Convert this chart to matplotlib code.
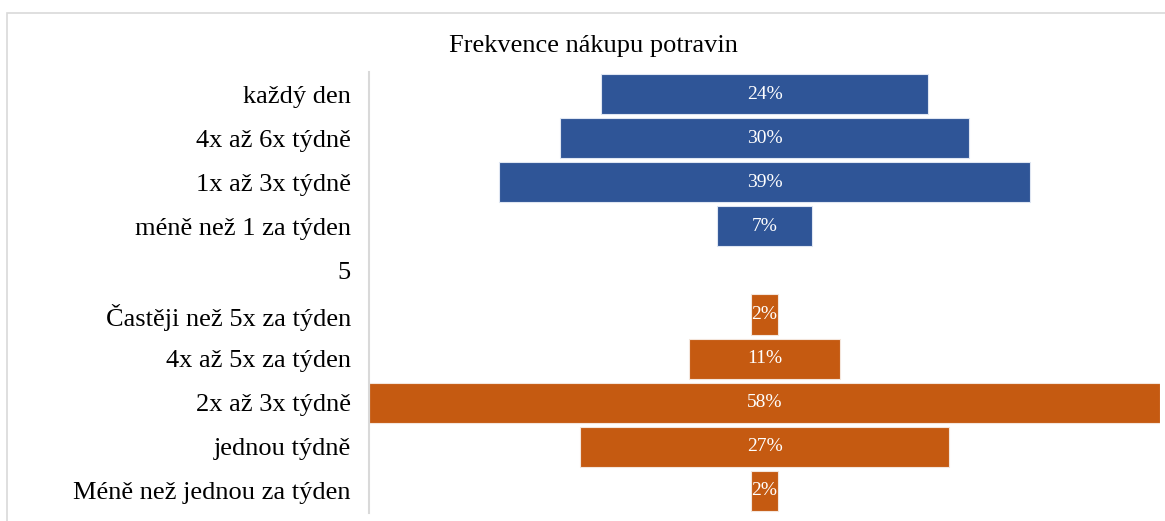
import numpy as np
import matplotlib
matplotlib.use("Agg")
import matplotlib.pyplot as plt
from matplotlib.patches import Rectangle

plt.rcParams["font.family"] = ["Liberation Serif", "DejaVu Serif"]

#%% data
categories = ["každý den", "4x až 6x týdně", "1x až 3x týdně", "méně než 1 za týden", "5",
              "Častěji než 5x za týden", "4x až 5x za týden", "2x až 3x týdně",
              "jednou týdně", "Méně než jednou za týden"]
values = [24, 30, 39, 7, 0, 2, 11, 58, 27, 2]
groups = ["a", "a", "a", "a", None, "b", "b", "b", "b", "b"]
colors = {"a": "#2F5597", "b": "#C55A11"}

#%% plot
fig = plt.figure(figsize=(11.65, 5.21), dpi=100)
fig.patches.append(Rectangle((7 / 1165, -0.1), 1.5, 1 - 13 / 521 + 0.1, transform=fig.transFigure,
                             fill=False, edgecolor="#d9d9d9", linewidth=1.2))
ax = fig.add_axes([369 / 1165, 8 / 521, 791 / 1165, 441 / 521])

y = np.arange(len(categories))
for i, (v, g) in enumerate(zip(values, groups)):
    if g is None:
        continue
    ax.barh(i, v, left=-v / 2, height=0.91, color=colors[g], edgecolor="#f4e6dc" if g == "b" else "#dfe6f2",
            linewidth=0.8)
    ax.text(0, i, f"{v}%", color="white", ha="center", va="center", fontsize=14)

ax.set_xlim(-29, 29)
ax.set_ylim(len(categories) - 0.5, -0.5)
ax.set_yticks(y)
ax.set_yticklabels(categories, fontsize=19)
ax.tick_params(axis="y", length=0, pad=13)
ax.set_xticks([])
for s in ["top", "right", "bottom"]:
    ax.spines[s].set_visible(False)
ax.spines["left"].set_color("#d9d9d9")
ax.spines["left"].set_linewidth(1.5)

fig.text(593 / 1165, 1 - 46 / 521, "Frekvence nákupu potravin", ha="center", va="center", fontsize=19)

plt.savefig("out.png", dpi=100)
